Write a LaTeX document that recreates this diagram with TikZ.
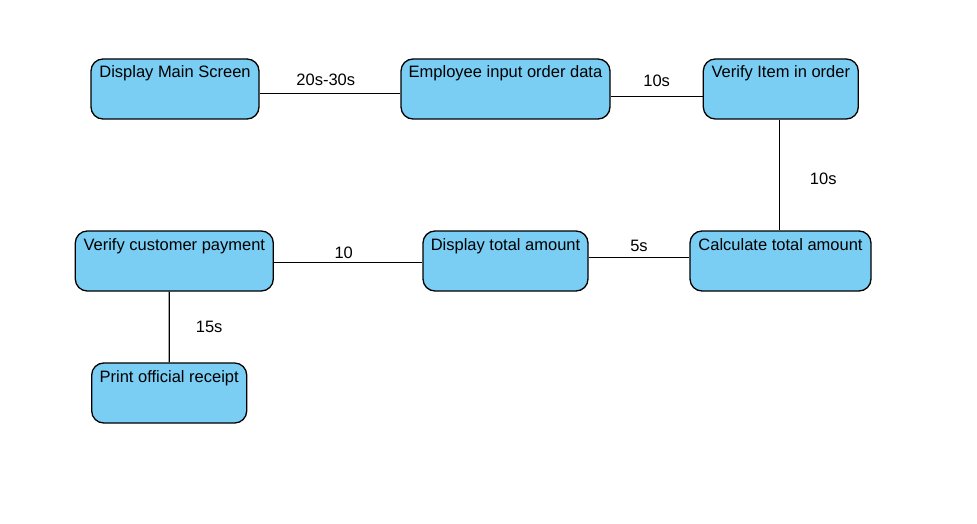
\documentclass[tikz,border=0pt]{standalone}
\usepackage{fontspec}
\setmainfont{Liberation Sans}
\usetikzlibrary{positioning}
\definecolor{taskblue}{RGB}{122,206,244}
\tikzset{
  task/.style={draw=black, fill=taskblue, rounded corners=12pt, line width=1.3pt,
    font=\fontsize{16.5}{19}\selectfont, inner xsep=0pt, inner ysep=3pt,
    text height=16pt, text depth=38pt},
  link/.style={draw=black, line width=1.2pt},
  lbl/.style={font=\fontsize{16.5}{19}\selectfont, inner sep=0pt}
}

\begin{document}
\begin{tikzpicture}[x=1pt, y=-1pt]
\useasboundingbox (0,0) rectangle (977,524);

% top row
\node[task, minimum width=168pt] (mainscreen) at (175,89) {Display Main Screen};
\node[task, minimum width=209pt] (inputdata) at (505.5,89) {Employee input order data};
\node[task, minimum width=155pt] (verifyitem) at (780.8,89) {Verify Item in order};

% middle row
\node[task, minimum width=181pt] (calctotal) at (780.5,261) {Calculate total amount};
\node[task, minimum width=165pt] (disptotal) at (505.5,261) {Display total amount};
\node[task, minimum width=198pt] (verifypay) at (174.3,261) {Verify customer payment};

% bottom
\node[task, minimum width=155pt] (receipt) at (169.2,393) {Print official receipt};

\draw[link] ([yshift=-4.3pt]mainscreen.east) -- node[lbl, above=7pt, pos=0.47] {20s-30s} ([yshift=-4.3pt]inputdata.west);
\draw[link] ([yshift=-7.7pt]inputdata.east) -- node[lbl, above=9.4pt] {10s} ([yshift=-7.7pt]verifyitem.west);
\draw[link] ([xshift=-1.5pt]verifyitem.south) -- node[lbl, right=30pt, pos=0.53] {10s} ([xshift=-1.2pt]calctotal.north);
\draw[link] ([yshift=3.3pt]calctotal.west) -- node[lbl, above=5pt] {5s} ([yshift=3.3pt]disptotal.east);
\draw[link] ([yshift=-1.3pt]disptotal.west) -- node[lbl, above=3.5pt, pos=0.53] {10} ([yshift=-1.3pt]verifypay.east);
\draw[link] ([xshift=-5pt]verifypay.south) -- node[lbl, right=26pt] {15s} (receipt.north);
\end{tikzpicture}
\end{document}
